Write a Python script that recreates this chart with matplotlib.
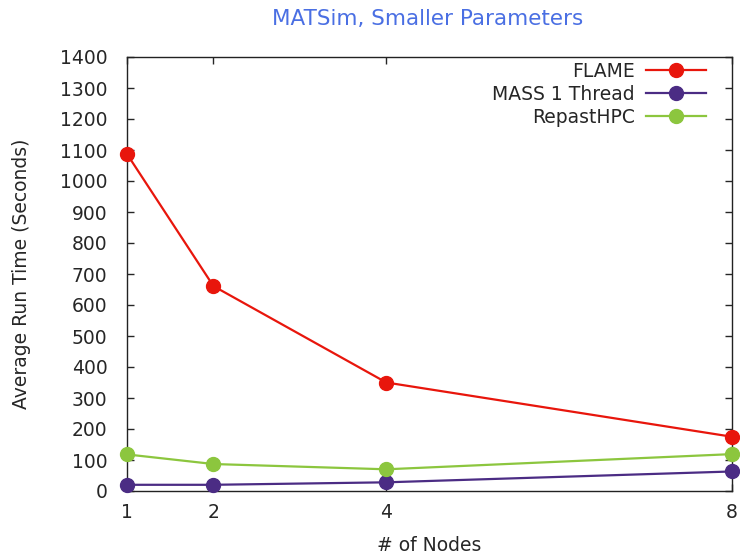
import matplotlib
matplotlib.use("Agg")
import matplotlib.pyplot as plt

nodes = [1, 2, 4, 8]
flame = [1087, 661, 350, 175]
mass = [20, 20, 28, 63]
repast = [118, 87, 70, 119]
series_names = ["FLAME", "MASS 1 Thread", "RepastHPC"]
y_ticks = list(range(0, 1401, 100))

plt.rcParams['font.family'] = ['DejaVu Sans']
fig = plt.figure(figsize=(7.4, 5.59), dpi=100)
ax = fig.add_axes([127/740, 68/559, 605/740, 434/559])

colors = ["#e8160c", "#4b2c84", "#8cc63e"]
for vals, name, c in zip([flame, mass, repast], series_names, colors):
    ax.plot(nodes, vals, color=c, lw=1.6, marker='o', ms=10, label=name, clip_on=False, zorder=3)

ax.set_xlim(1, 8)
ax.set_ylim(0, 1400)
ax.set_xticks(nodes)
ax.set_yticks(y_ticks)
ax.tick_params(direction='in', length=5, width=1, labelsize=13.5, colors='#262626',
               top=True, right=True)
ax.tick_params(axis='y', pad=14)
ax.tick_params(axis='x', pad=9)
for s in ax.spines.values():
    s.set_color('#222222')
    s.set_linewidth(1)

ax.set_xlabel("# of Nodes", fontsize=13.5, color='#262626', labelpad=10)
ax.set_ylabel("Average Run Time (Seconds)", fontsize=13.5, color='#262626', labelpad=21)
fig.text(428/740, 1 - 19/559, "MATSim, Smaller Parameters", ha='center', va='center',
         fontsize=15.5, color='#4a6fe3')

leg = ax.legend(loc='upper right', bbox_to_anchor=(706/740, 1 - 62/559), bbox_transform=fig.transFigure,
                frameon=False, markerfirst=False, fontsize=13.5, handlelength=3.2,
                handletextpad=0.6, labelspacing=0.2, borderpad=0, borderaxespad=0)
for t in leg.get_texts():
    t.set_color('#262626')

fig.savefig("out.png", dpi=100)
